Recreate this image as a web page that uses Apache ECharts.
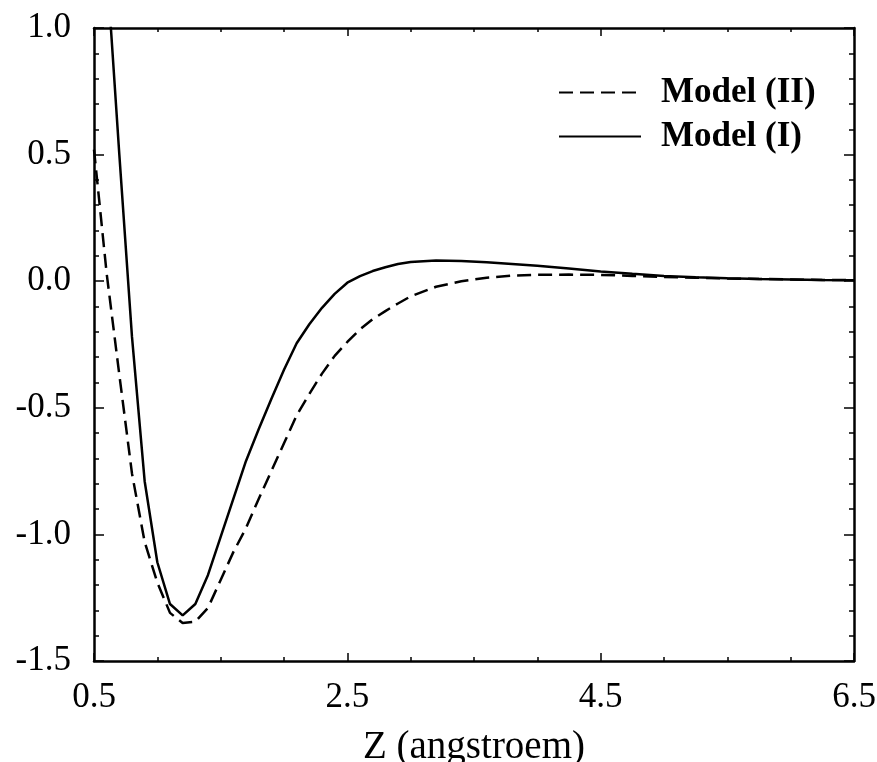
<!DOCTYPE html>
<html>
<head>
<meta charset="utf-8">
<script src="https://cdn.jsdelivr.net/npm/echarts@6/dist/echarts.min.js"></script>
<style>
html,body{margin:0;padding:0;background:#fff;}
#chart{width:877px;height:762px;}
</style>
</head>
<body>
<div id="chart"></div>
<script>
// ---- data ----
const zModelI = [0.6,0.7,0.8,0.9,1.0,1.1,1.2,1.3,1.4,1.5,1.6,1.7,1.8,1.9,2.0,2.1,2.2,2.3,2.4,2.5,2.6,2.7,2.8,2.9,3.0,3.2,3.4,3.6,3.8,4.0,4.25,4.5,4.75,5.0,5.25,5.5,5.75,6.0,6.25,6.5];
const vModelI = [1.25,0.50,-0.22,-0.79,-1.11,-1.275,-1.32,-1.275,-1.16,-1.01,-0.86,-0.71,-0.585,-0.465,-0.35,-0.245,-0.17,-0.105,-0.05,-0.006,0.02,0.04,0.055,0.068,0.076,0.082,0.080,0.075,0.068,0.061,0.05,0.038,0.029,0.021,0.016,0.012,0.009,0.007,0.005,0.004];
const zModelII = [0.5,0.6,0.7,0.8,0.9,1.0,1.1,1.2,1.3,1.4,1.5,1.6,1.7,1.8,1.9,2.0,2.1,2.2,2.3,2.4,2.5,2.6,2.7,2.8,2.9,3.0,3.2,3.4,3.6,3.8,4.0,4.25,4.5,4.75,5.0,5.25,5.5,5.75,6.0,6.25,6.5];
const vModelII = [0.52,0.03,-0.37,-0.76,-1.03,-1.19,-1.31,-1.35,-1.345,-1.29,-1.18,-1.07,-0.975,-0.86,-0.75,-0.64,-0.53,-0.445,-0.365,-0.295,-0.24,-0.19,-0.15,-0.118,-0.088,-0.06,-0.022,0.0,0.014,0.022,0.025,0.026,0.025,0.021,0.017,0.014,0.011,0.009,0.007,0.005,0.004];
const xMajorTicks = [0.5, 2.5, 4.5, 6.5];
const seriesNames = ['Model (II)', 'Model (I)'];
const xName = 'Z (angstroem)';

const FONT = "'Liberation Serif','Times New Roman',serif";
const AX = {onZero:false, lineStyle:{color:'#000', width:2.5}};
const xMin = 0.5, xMax = 6.5, yMin = -1.5, yMax = 1.0;

function isMajorX(v){ return xMajorTicks.some(t => Math.abs(t - v) < 1e-6); }

const chart = echarts.init(document.getElementById('chart'));
chart.setOption({
  animation:false,
  backgroundColor:'#fff',
  grid:{left:94, right:23, top:28, bottom:101, containLabel:false, outerBoundsMode:'none'},
  legend:{
    orient:'vertical', left:553, top:70, itemWidth:82, itemHeight:16, itemGap:9,
    data:seriesNames,
    itemStyle:{opacity:0},
    textStyle:{fontFamily:FONT, fontWeight:'bold', fontSize:35, color:'#000', padding:[0,0,0,15]},
    selectedMode:false
  },
  xAxis:[
    {type:'value', min:xMin, max:xMax, interval:0.5, position:'bottom',
     axisLine:{show:true, ...AX}, splitLine:{show:false},
     axisTick:{show:true, inside:true, length:4, lineStyle:{color:'#000', width:1.5}},
     axisLabel:{show:true, margin:19, fontFamily:FONT, fontSize:35, color:'#000',
       formatter:v => isMajorX(v) ? v.toFixed(1) : '', showMinLabel:true, showMaxLabel:true},
     name:xName, nameLocation:'middle', nameGap:67,
     nameTextStyle:{fontFamily:FONT, fontSize:39, color:'#000'}},
    {type:'value', min:xMin, max:xMax, position:'bottom',
     axisLine:{show:false, onZero:false}, splitLine:{show:false}, axisLabel:{show:false},
     axisTick:{show:true, inside:true, length:8, customValues:xMajorTicks, lineStyle:{color:'#000', width:1.5}}},
    {type:'value', min:xMin, max:xMax, interval:0.5, position:'top',
     axisLine:{show:true, ...AX}, splitLine:{show:false}, axisLabel:{show:false},
     axisTick:{show:true, inside:true, length:4, lineStyle:{color:'#000', width:1.5}}},
    {type:'value', min:xMin, max:xMax, position:'top',
     axisLine:{show:false, onZero:false}, splitLine:{show:false}, axisLabel:{show:false},
     axisTick:{show:true, inside:true, length:8, customValues:xMajorTicks, lineStyle:{color:'#000', width:1.5}}}
  ],
  yAxis:[
    {type:'value', min:yMin, max:yMax, interval:0.5, position:'left',
     axisLine:{show:true, ...AX}, splitLine:{show:false},
     axisTick:{show:true, inside:true, length:10, lineStyle:{color:'#000', width:1.5}},
     minorTick:{show:true, splitNumber:5, length:5, lineStyle:{color:'#000', width:1.5}},
     minorSplitLine:{show:false},
     axisLabel:{show:true, margin:23, fontFamily:FONT, fontSize:35, color:'#000',
       formatter:v => v.toFixed(1)}},
    {type:'value', min:yMin, max:yMax, interval:0.5, position:'right',
     axisLine:{show:true, ...AX}, splitLine:{show:false}, axisLabel:{show:false},
     axisTick:{show:true, inside:true, length:10, lineStyle:{color:'#000', width:1.5}},
     minorTick:{show:true, splitNumber:5, length:5, lineStyle:{color:'#000', width:1.5}},
     minorSplitLine:{show:false}}
  ],
  series:[
    {name:seriesNames[0], type:'line', xAxisIndex:0, yAxisIndex:0, symbol:'none', clip:true,
     data:zModelII.map((z,i)=>[z, vModelII[i]]),
     lineStyle:{color:'#000', width:2.5, type:[14,7]}, itemStyle:{color:'#000'}},
    {name:seriesNames[1], type:'line', xAxisIndex:0, yAxisIndex:0, symbol:'none', clip:true,
     data:zModelI.map((z,i)=>[z, vModelI[i]]),
     lineStyle:{color:'#000', width:2.5, type:'solid'}, itemStyle:{color:'#000'}}
  ]
});
</script>
</body>
</html>
